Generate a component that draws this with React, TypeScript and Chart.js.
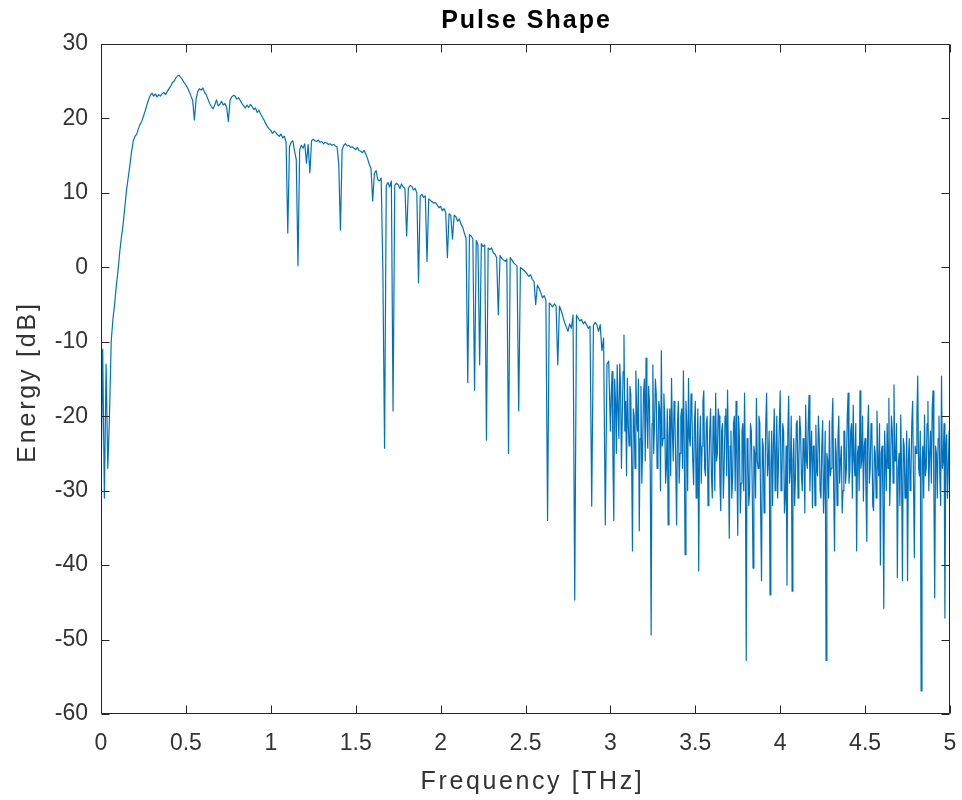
import React, { useEffect, useRef } from 'react';
import { Chart, registerables } from 'chart.js';

Chart.register(...registerables);

const TITLE = 'Pulse Shape';
const X_LABEL = 'Frequency [THz]';
const Y_LABEL = 'Energy [dB]';

const X_TICKS = [0, 0.5, 1, 1.5, 2, 2.5, 3, 3.5, 4, 4.5, 5];
const Y_TICKS = [-60, -50, -40, -30, -20, -10, 0, 10, 20, 30];

// spectrum (dB)
// 0 – 3 THz sampled every 0.01 THz, 3 – 5 THz every 0.005 THz
const COARSE_START_THZ = 0;
const COARSE_STEP_THZ = 0.01;
const FINE_START_THZ = 3;
const FINE_STEP_THZ = 0.005;

// 0.00 – 0.99 THz
const ENERGY_0_TO_1 = [
  -30, -11, -31, -13, -27, -20, -10, -7, -5, -2.5,
  -0.5, 2, 4, 5.7, 8, 10.3, 12, 13.7, 15.5, 17,
  17.6, 17.9, 18.6, 19.2, 19.6, 20.3, 21.0, 21.8, 22.5, 23.1,
  23.4, 23.0, 23.3, 22.9, 23.2, 23.0, 23.3, 23.5, 23.2, 23.6,
  24.0, 24.3, 24.8, 25.0, 25.4, 25.7, 25.8, 25.5, 25.2, 24.8,
  24.5, 24.1, 23.6, 23.0, 22.4, 19.8, 22.6, 23.6, 24.0, 23.8,
  24.1, 23.5, 23.2, 22.6, 22.0, 21.6, 21.3, 21.8, 22.5, 21.7,
  21.9, 22.3, 21.8, 22.0, 21.5, 19.6, 22.4, 22.9, 23.1, 23.0,
  22.6, 22.8, 22.4, 22.0, 21.7, 21.4, 21.8, 21.5, 21.9, 21.6,
  21.2, 21.4, 20.8, 21.1, 20.6, 20.2, 19.8, 19.3, 18.9, 18.6,
];

// 1.00 – 1.99 THz
const ENERGY_1_TO_2 = [
  18.4, 18.0, 18.3, 18.1, 17.8, 17.6, 17.9, 17.4, 17.6, 16.8,
  4.6, 16.2, 16.8, 17.0, 15.6, 14.5, 0.2, 15.8, 16.4, 16.0,
  16.6, 14.0, 16.5, 12.7, 17.0, 17.2, 17.0, 16.9, 17.1, 16.8,
  16.9, 16.6, 16.8, 16.7, 16.5, 16.6, 16.4, 16.5, 16.3, 16.2,
  14.0, 5.0, 15.8, 16.4, 16.6, 16.3, 16.4, 16.1, 16.2, 16.0,
  15.8, 16.1, 15.7, 15.6, 15.4, 15.7, 15.2, 14.6, 13.8, 13.3,
  8.9, 12.6, 13.0, 11.8, 11.6, 12.0, -0.5, -24.3, 11.0, 11.4,
  10.8, 11.6, -19.3, 11.0, 11.3, 11.1, 10.6, 11.2, 10.8, 10.6,
  4.2, 10.6, 11.0, 10.9, 10.4, 10.6, 10.0, -2.1, 9.6, 9.8,
  9.4, 9.6, 0.8, 9.2, 9.0, 8.8, 8.6, 8.7, 8.4, 8.0,
];

// 2.00 – 2.99 THz
const ENERGY_2_TO_3 = [
  8.2, 7.6, 7.9, 7.4, 1.3, 7.2, 7.0, 3.8, 7.0, 6.8,
  6.2, 6.5, 5.8, 5.4, 4.6, 3.9, -15.5, 4.4, 4.2, 3.8,
  -16.5, 3.6, 3.0, -13.1, 3.2, 2.8, 3.0, -23.2, 2.6, 2.4,
  2.6, 2.0, 1.8, 1.3, -6.4, 1.6, 1.2, 1.0, 0.8, 1.1,
  -25.0, 1.3, 1.0, 0.6, 0.4, 0.2, -19.3, 0.0, -0.2, -0.4,
  -0.6, -0.9, -1.2, -1.0, -1.6, -1.9, -5.0, -2.4, -2.8, -3.4,
  -4.1, -3.8, -4.4, -34.0, -4.8, -5.0, -5.3, -4.9, -5.2, -13.1,
  -5.2, -5.8, -6.6, -7.4, -8.0, -8.6, -7.6, -8.2, -6.4, -44.7,
  -6.4, -6.8, -7.2, -7.0, -7.6, -7.3, -7.7, -8.2, -7.9, -32.1,
  -7.8, -7.4, -7.7, -8.6, -7.7, -11.2, -9.5, -34.6, -13.0, -12.6,
];

// 3.000 – 3.995 THz (0.005 THz steps)
const ENERGY_3_TO_4 = [
  -22, -17, -14, -26, -34, -15, -18, -25, -13.1, -19, -23, -13, -16, -27, -20, -14, -9.1, -22, -18, -28,
  -14.9, -21, -24, -16, -17, -26, -38.1, -19, -20, -27, -13.9, -20, -22, -15, -35.4, -23, -16, -29, -24, -17,
  -15, -26, -12.2, -20, -24.3, -16, -18, -28, -49.4, -21, -13.1, -25, -21, -15, -17, -27, -25.2, -18, -19, -30,
  -11.2, -24, -23, -17, -20.2, -29, -27, -19, -34.6, -23, -19, -28, -14.9, -22, -26, -18, -20, -27, -34.6, -21,
  -18, -29, -25, -20, -19, -27, -13.9, -24, -38.6, -18, -21, -30, -14.9, -23, -24, -17, -19, -26, -29.2, -21,
  -18, -31, -26, -19, -40.8, -24, -20, -29, -24, -18, -16.6, -27, -28, -21, -20, -32, -27.4, -22, -19, -28,
  -31, -20, -22, -30, -16.9, -26, -25, -19, -20, -29, -32.7, -22, -21, -31, -27, -20, -19, -28, -16.5, -25,
  -36.4, -24, -22, -31, -28, -21, -20, -30, -18, -26, -36, -20, -23, -33, -29, -22, -21, -30, -16.9, -27,
  -52.8, -23, -24, -32, -30, -21, -22, -29, -40.4, -24, -25, -31, -17.6, -26, -27, -20, -21, -33, -42.1, -23,
  -24, -33, -29, -21, -16.9, -28, -26, -22, -44, -27, -22, -32, -23.9, -19, -30, -25, -20, -31, -26, -21,
];

// 4.000 – 5.000 THz (0.005 THz steps)
const ENERGY_4_TO_5 = [
  -16.6, -30, -28, -21, -22, -33, -31, -24, -42.7, -22, -17.3, -29, -27, -20, -43.5, -26, -23, -32, -28, -21,
  -20.6, -31, -26, -20, -22, -28, -30, -23, -24, -33, -18.5, -26, -27, -21, -17.2, -30, -25, -22, -32.3, -24,
  -24, -32, -21.2, -27, -28, -20, -23, -30, -31, -24, -20.6, -33, -29, -22, -52.8, -25, -26, -31, -20.6, -28,
  -27, -21, -17.6, -30, -38.1, -23, -25, -32, -23, -20, -29, -26, -24, -33, -30, -22, -22, -29, -27, -20,
  -16.9, -29, -27.4, -22, -21, -31, -18.5, -26, -28, -21, -38.1, -25, -24, -30, -16.6, -27, -26, -20, -31.4, -24,
  -23, -30, -36.8, -22, -18.5, -29, -27, -21, -22, -32, -32.7, -24, -25, -31, -19.3, -26, -28, -21, -40, -25,
  -24, -31, -45.8, -22, -26, -30, -21, -27, -17.6, -32, -27, -20, -22, -29, -15.8, -26, -26, -21, -41.7, -27,
  -25, -32, -19.8, -28, -42.1, -23, -24, -31, -29, -22, -42.1, -26, -23, -30, -28, -21, -18, -29, -39, -24,
  -25, -20, -14.6, -27, -28, -22, -56.9, -26, -24, -31, -19.8, -28, -27, -21, -18, -30, -25, -22, -29, -19,
  -16.6, -30, -44.4, -24, -25, -31, -23, -20, -28, -32, -14.6, -27, -26, -21, -47.1, -25, -22.5, -31, -27, -22,
  -25,
];

const ENERGY_COARSE = [...ENERGY_0_TO_1, ...ENERGY_1_TO_2, ...ENERGY_2_TO_3];
const ENERGY_FINE = [...ENERGY_3_TO_4, ...ENERGY_4_TO_5];

const LINE_COLOR = '#0072BD';
const AXIS_COLOR = '#262626';
const TEXT_COLOR = '#333333';
const FONT = '"Liberation Sans", Arial, Helvetica, sans-serif';

const framePlugin = {
  id: 'matlabFrame',
  afterDatasetsDraw(chart: any) {
    const { ctx, chartArea } = chart;
    const { left, right, top, bottom } = chartArea;
    const xs = chart.scales.x;
    const ys = chart.scales.y;
    const tl = 8;
    ctx.save();
    ctx.strokeStyle = AXIS_COLOR;
    ctx.lineWidth = 1;
    ctx.beginPath();
    const L = Math.round(left) + 0.5;
    const R = Math.round(right) - 0.5;
    const T = Math.round(top) + 0.5;
    const B = Math.round(bottom) - 0.5;
    ctx.moveTo(L, T);
    ctx.lineTo(R, T);
    ctx.lineTo(R, B);
    ctx.lineTo(L, B);
    ctx.closePath();
    xs.ticks.forEach((t: any) => {
      const p = Math.round(xs.getPixelForValue(t.value)) + 0.5;
      ctx.moveTo(p, B);
      ctx.lineTo(p, B - tl);
      ctx.moveTo(p, T);
      ctx.lineTo(p, T + tl);
    });
    ys.ticks.forEach((t: any) => {
      const p = Math.round(ys.getPixelForValue(t.value)) + 0.5;
      ctx.moveTo(L, p);
      ctx.lineTo(L + tl, p);
      ctx.moveTo(R, p);
      ctx.lineTo(R - tl, p);
    });
    ctx.stroke();
    ctx.restore();
  },
};

const labelsPlugin = {
  id: 'matlabLabels',
  afterDraw(chart: any) {
    const { ctx, chartArea } = chart;
    const cx = (chartArea.left + chartArea.right) / 2;
    const cy = (chartArea.top + chartArea.bottom) / 2;
    ctx.save();
    ctx.textAlign = 'center';
    ctx.textBaseline = 'alphabetic';

    ctx.fillStyle = '#000000';
    ctx.font = `bold 25px ${FONT}`;
    (ctx as any).letterSpacing = '2px';
    ctx.fillText(TITLE, cx + 1, 28);

    ctx.fillStyle = TEXT_COLOR;
    ctx.font = `25px ${FONT}`;
    (ctx as any).letterSpacing = '2.6px';
    ctx.fillText(X_LABEL, cx + 7, 789);

    ctx.translate(35, cy + 4);
    ctx.rotate(-Math.PI / 2);
    (ctx as any).letterSpacing = '2.8px';
    ctx.fillText(Y_LABEL, 1, 0);
    ctx.restore();
  },
};

export default function App() {
  const canvasRef = useRef<HTMLCanvasElement | null>(null);

  useEffect(() => {
    const canvas = canvasRef.current;
    if (!canvas) return;
    const coarse = ENERGY_COARSE.map((v, i) => ({
      x: Math.round((COARSE_START_THZ + i * COARSE_STEP_THZ) * 1000) / 1000,
      y: v,
    }));
    const fine = ENERGY_FINE.map((v, j) => ({
      x: Math.round((FINE_START_THZ + j * FINE_STEP_THZ) * 1000) / 1000,
      y: v,
    }));
    const points = [...coarse, ...fine];
    const tickFont = { family: FONT, size: 23 };
    const chart = new Chart(canvas, {
      type: 'line',
      data: {
        datasets: [
          {
            label: 'Energy',
            data: points,
            borderColor: LINE_COLOR,
            backgroundColor: LINE_COLOR,
            borderWidth: 1.2,
            pointRadius: 0,
            tension: 0,
            fill: false,
            borderJoinStyle: 'round',
          },
        ],
      },
      options: {
        animation: false,
        responsive: false,
        events: [],
        layout: { padding: { top: 44, right: 12, left: 0, bottom: 0 } },
        plugins: {
          legend: { display: false },
          tooltip: { enabled: false },
          title: { display: false },
        },
        scales: {
          x: {
            type: 'linear',
            min: 0,
            max: 5,
            grid: { display: false, drawTicks: false },
            border: { display: false },
            ticks: {
              font: tickFont,
              color: TEXT_COLOR,
              padding: 16,
              maxRotation: 0,
              autoSkip: false,
              callback: (v: any) => String(v),
            },
            afterBuildTicks: (s: any) => {
              s.ticks = X_TICKS.map((v) => ({ value: v }));
            },
            afterFit: (s: any) => {
              s.height = 86;
              s.paddingLeft = 0;
              s.paddingRight = 0;
            },
          },
          y: {
            type: 'linear',
            min: -60,
            max: 30,
            grid: { display: false, drawTicks: false },
            border: { display: false },
            ticks: {
              font: tickFont,
              color: TEXT_COLOR,
              padding: 13,
              autoSkip: false,
              callback: (v: any) => String(v),
            },
            afterBuildTicks: (s: any) => {
              s.ticks = Y_TICKS.map((v) => ({ value: v }));
            },
            afterFit: (s: any) => {
              s.width = 101;
              s.paddingTop = 0;
              s.paddingBottom = 0;
            },
          },
        },
      } as any,
      plugins: [framePlugin, labelsPlugin],
    });
    return () => chart.destroy();
  }, []);

  return (
    <div style={{ position: 'fixed', left: 0, top: 0, width: 962, height: 800, background: '#ffffff' }}>
      <canvas ref={canvasRef} width={962} height={800} style={{ display: 'block', width: 962, height: 800 }} />
    </div>
  );
}
